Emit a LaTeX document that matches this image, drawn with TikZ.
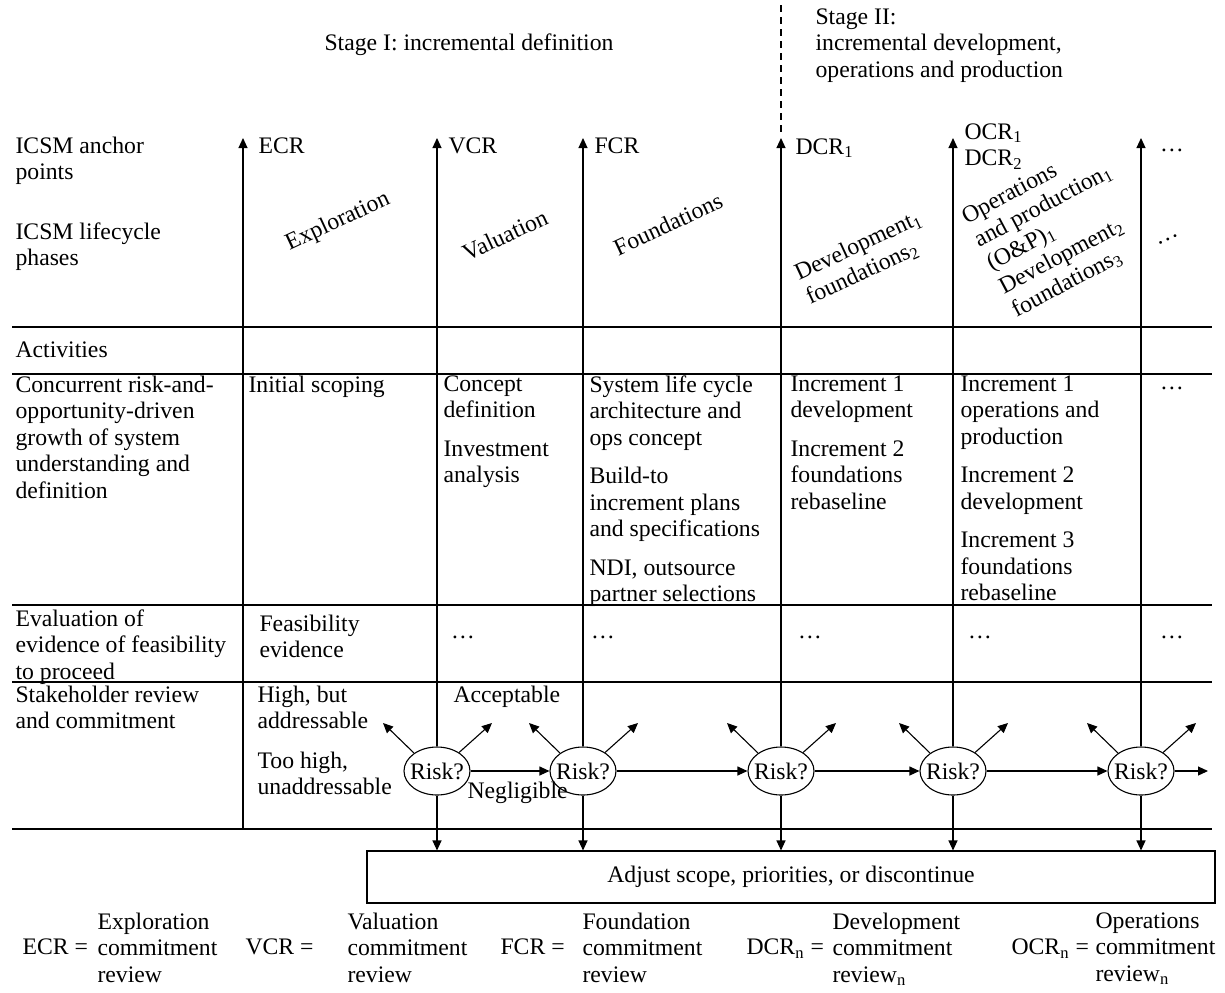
\documentclass[tikz,border=0pt]{standalone}
\usepackage{fontspec}
\setmainfont{Liberation Serif}
\usetikzlibrary{shapes.geometric,arrows.meta,calc}
\begin{document}
\begin{tikzpicture}[x=0.5pt,y=-0.5pt,
  every node/.style={font=\fontsize{11.85pt}{13.25pt}\selectfont},
  txt/.style={anchor=north west, inner sep=0pt, align=left},
  lbl/.style={anchor=west, inner sep=0pt},
  rot/.style={rotate=25, inner sep=0pt, align=left},
  arr/.style={-{Triangle[length=5pt,width=4.5pt]}},
  grid/.style={line width=0.55pt},
  riskbox/.style={ellipse, draw, line width=0.55pt, minimum width=33pt,
    minimum height=24pt, inner xsep=-3pt, inner ysep=0pt},
  line width=0.55pt]
\useasboundingbox (0,0) rectangle (1225,992);

% stage headings
\node (stageI) at (469,45) {Stage I: incremental definition};
\node[txt] (stageII) at (815,8) {Stage II:\\incremental development,\\operations and production};
\coordinate (dashtop) at (781,5);
\coordinate (dashbot) at (781,135);
\draw[dashed, dash pattern=on 3.5pt off 2.5pt] (dashtop) -- (dashbot);

% row headings
\node[txt] (hAnchor) at (15,136) {ICSM anchor\\points};
\node[txt] (hPhase) at (15,222) {ICSM lifecycle\\phases};
\node[txt] (hAct) at (15,341) {Activities};
\node[txt] (hGrowth) at (15,375) {Concurrent risk-and-\\opportunity-driven\\growth of system\\understanding and\\definition};
\node[txt] (hEval) at (15,609) {Evaluation of\\evidence of feasibility\\to proceed};
\node[txt] (hStake) at (15,685) {Stakeholder review\\and commitment};

% column tops (arrow tips)
\coordinate (tE) at (243,138);
\coordinate (tV) at (437,138);
\coordinate (tF) at (583,138);
\coordinate (tD) at (781,138);
\coordinate (tO) at (953,138);
\coordinate (tX) at (1141,138);
\coordinate (bE) at (243,829);

% anchor point labels
\node[lbl] (ecr) at (258,146) {ECR};
\node[lbl] (vcr) at (448,146) {VCR};
\node[lbl] (fcr) at (594,146) {FCR};
\node[lbl] (dcr) at (795,148) {DCR\textsubscript{1}};
\node[txt] (ocr) at (964,123) {OCR\textsubscript{1}\\DCR\textsubscript{2}};
\node (adots) at (1172,150) {\dots};

% lifecycle phases
\node[rot] (pE) at (338,222) {Exploration};
\node[rot] (pV) at (505,235) {Valuation};
\node[rot] (pF) at (668,224) {Foundations};
\node[rot] (pD) at (864,258) {Development\textsubscript{1}\\foundations\textsubscript{2}};
\node[rot, rotate=3] (pO) at (1056,230) {Operations\\and production\textsubscript{1}\\(O\&P)\textsubscript{1}\\Development\textsubscript{2}\\foundations\textsubscript{3}};
\node[rot] (pX) at (1168,240) {\dots};

% horizontal rules
\draw[grid] (12,327) -- (1212,327);
\draw[line width=1.1pt] (12,374) -- (243,374);
\draw[grid] (243,374) -- (1212,374);
\draw[grid] (12,605) -- (1212,605);
\draw[grid] (12,682) -- (1212,682);
\draw[grid] (12,829) -- (1212,829);

% activities
\node[txt] (aE) at (248,375) {Initial scoping};
\node[txt] (aV) at (443,375) {Concept\\definition\\[6pt]Investment\\analysis};
\node[txt] (aF) at (589,375) {System life cycle\\architecture and\\ops concept\\[6pt]Build-to\\increment plans\\and specifications\\[6pt]NDI, outsource\\partner selections};
\node[txt] (aD) at (790,375) {Increment 1\\development\\[6pt]Increment 2\\foundations\\rebaseline};
\node[txt] (aO) at (960,375) {Increment 1\\operations and\\production\\[6pt]Increment 2\\development\\[6pt]Increment 3\\foundations\\rebaseline};
\node (aX) at (1172,388) {\dots};

% feasibility evidence
\node[txt] (eE) at (259,614) {Feasibility\\evidence};
\node (eV) at (463,637) {\dots};
\node (eF) at (603,637) {\dots};
\node (eD) at (810,637) {\dots};
\node (eO) at (980,637) {\dots};
\node (eX) at (1172,637) {\dots};

% stakeholder review
\node[txt] (sHigh) at (257,685) {High, but\\addressable};
\node[txt] (sToo) at (257,751) {Too high,\\unaddressable};
\node[txt] (sAcc) at (453,685) {Acceptable};
\node[txt] (sNeg) at (467,781) {Negligible};

\node[riskbox] (r1) at (437,771) {Risk?};
\node[riskbox] (r2) at (583,771) {Risk?};
\node[riskbox] (r3) at (781,771) {Risk?};
\node[riskbox] (r4) at (953,771) {Risk?};
\node[riskbox] (r5) at (1141,771) {Risk?};
\coordinate (rend) at (1208,771);

\node[draw, line width=0.55pt, minimum width=424pt, minimum height=26pt, inner sep=0pt] (adj) at (791,877) {Adjust scope, priorities, or discontinue};

% column arrows
\draw[arr] (bE) -- (tE);
\draw[arr] (r1) -- (tV);
\draw[arr] (r2) -- (tF);
\draw[arr] (r3) -- (tD);
\draw[arr] (r4) -- (tO);
\draw[arr] (r5) -- (tX);

% risk flow
\draw[arr] (r1) -- (r2);
\draw[arr] (r2) -- (r3);
\draw[arr] (r3) -- (r4);
\draw[arr] (r4) -- (r5);
\draw[arr] (r5) -- (rend);
\foreach \r in {r1,r2,r3,r4,r5}{
  \draw[arr] (\r.142) -- ($(\r)+(-54,-48)$);
  \draw[arr] (\r.40) -- ($(\r)+(55,-48)$);
  \draw[arr] (\r) -- (\r |- adj.north);
}

% legend
\node[txt] (g1) at (97,912) {Exploration\\commitment\\review};
\node[anchor=base west, inner sep=0pt] (k1) at ($(g1.north west)+(-75,42.5)$) {ECR =};
\node[txt] (g2) at (347,912) {Valuation\\commitment\\review};
\node[anchor=base west, inner sep=0pt] (k2) at ($(g2.north west)+(-102,42.5)$) {VCR =};
\node[txt] (g3) at (582,912) {Foundation\\commitment\\review};
\node[anchor=base west, inner sep=0pt] (k3) at ($(g3.north west)+(-82,42.5)$) {FCR =};
\node[txt] (g4) at (832,912) {Development\\commitment\\review\textsubscript{n}};
\node[anchor=base west, inner sep=0pt] (k4) at ($(g4.north west)+(-86,42.5)$) {DCR\textsubscript{n} =};
\node[txt] (g5) at (1095,912) {Operations\\commitment\\review\textsubscript{n}};
\node[anchor=base west, inner sep=0pt] (k5) at ($(g5.north west)+(-84,42.5)$) {OCR\textsubscript{n} =};
\end{tikzpicture}
\end{document}
